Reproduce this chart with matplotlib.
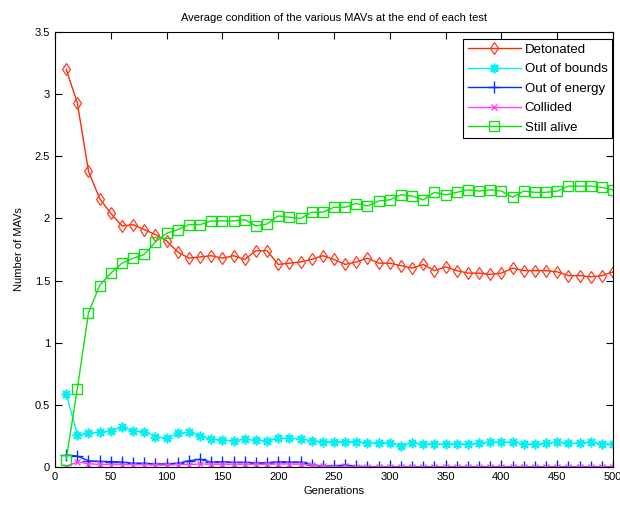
import matplotlib
matplotlib.use("Agg")
import matplotlib.pyplot as plt
import numpy as np

generations = list(range(10, 501, 10))

detonated = [3.20, 2.93, 2.38, 2.16, 2.04, 1.94, 1.95, 1.91, 1.87, 1.82,
             1.73, 1.68, 1.69, 1.70, 1.68, 1.70, 1.67, 1.74, 1.74, 1.63,
             1.64, 1.65, 1.67, 1.70, 1.67, 1.63, 1.65, 1.68, 1.64, 1.64,
             1.62, 1.60, 1.63, 1.58, 1.61, 1.58, 1.56, 1.56, 1.55, 1.56,
             1.60, 1.58, 1.58, 1.58, 1.57, 1.54, 1.54, 1.53, 1.54, 1.57]

out_of_bounds = [0.59, 0.26, 0.27, 0.28, 0.29, 0.32, 0.29, 0.285, 0.245, 0.23,
                 0.27, 0.28, 0.25, 0.223, 0.218, 0.212, 0.223, 0.218, 0.212, 0.23,
                 0.23, 0.226, 0.212, 0.204, 0.204, 0.204, 0.204, 0.196, 0.196, 0.196,
                 0.17, 0.196, 0.185, 0.185, 0.185, 0.185, 0.185, 0.19, 0.20, 0.20,
                 0.20, 0.185, 0.185, 0.19, 0.20, 0.19, 0.19, 0.20, 0.185, 0.185]

out_of_energy = [0.097, 0.088, 0.05, 0.045, 0.043, 0.04, 0.03, 0.03, 0.025, 0.025,
                 0.03, 0.05, 0.062, 0.04, 0.043, 0.037, 0.037, 0.033, 0.033, 0.043,
                 0.04, 0.04, 0.018, 0.008, 0.008, 0.016, 0.005, 0.003, 0.003, 0.003,
                 0.003, 0.003, 0.003, 0.003, 0.003, 0.003, 0.003, 0.003, 0.003, 0.003,
                 0.003, 0.003, 0.003, 0.003, 0.003, 0.003, 0.003, 0.003, 0.003, 0.003]

collided = [0.0, 0.043, 0.025, 0.022, 0.02, 0.02, 0.018, 0.018, 0.016, 0.016,
            0.018, 0.02, 0.024, 0.022, 0.022, 0.022, 0.022, 0.022, 0.022, 0.024,
            0.024, 0.022, 0.014, 0.005, 0.0, 0.005, 0.0, 0.0, 0.0, 0.0,
            0.0, 0.0, 0.0, 0.0, 0.0, 0.0, 0.0, 0.0, 0.0, 0.0,
            0.0, 0.0, 0.0, 0.0, 0.0, 0.0, 0.0, 0.0, 0.0, 0.0]

still_alive = [0.06, 0.63, 1.24, 1.46, 1.56, 1.64, 1.68, 1.71, 1.81, 1.88,
               1.91, 1.95, 1.95, 1.98, 1.98, 1.98, 1.99, 1.94, 1.955, 2.02,
               2.01, 2.00, 2.05, 2.05, 2.09, 2.09, 2.12, 2.10, 2.14, 2.15,
               2.19, 2.18, 2.15, 2.21, 2.19, 2.21, 2.23, 2.22, 2.23, 2.22,
               2.17, 2.22, 2.21, 2.21, 2.22, 2.26, 2.26, 2.26, 2.25, 2.23]

plt.rcParams['font.family'] = ['Liberation Sans', 'DejaVu Sans']

fig = plt.figure(figsize=(6.2, 5.08), dpi=100)
ax = fig.add_axes([55/620, 41/508, 558/620, 435/508])

lw = 1.0
ax.plot(generations, detonated, color='#ff2a00', lw=lw, marker='d', ms=6,
        mfc='none', mec='#ff3a20', mew=0.9, label='Detonated')
ax.plot(generations, out_of_bounds, color='#00f0f0', lw=lw, marker=(8, 2, 0), ms=7,
        mec='#00f0f0', mew=1.2, label='Out of bounds')
ax.plot(generations, out_of_energy, color='#0030ff', lw=lw, marker='+', ms=8,
        mew=1.0, label='Out of energy')
ax.plot(generations, collided, color='#ff40ff', lw=lw, marker='x', ms=5,
        mew=1.0, label='Collided')
ax.plot(generations, still_alive, color='#10e010', lw=lw, marker='s', ms=7,
        mfc='none', mec='#10e010', mew=1.0, label='Still alive')

ax.set_xlim(0, 500)
ax.set_ylim(0, 3.5)
ax.set_xticks(np.arange(0, 501, 50))
ax.set_yticks(np.arange(0, 3.51, 0.5))
ax.set_yticklabels(['0', '0.5', '1', '1.5', '2', '2.5', '3', '3.5'])
ax.tick_params(direction='in', top=True, right=True, labelsize=8, length=5, width=0.8)
for s in ax.spines.values():
    s.set_linewidth(0.8)

ax.set_xlabel('Generations', fontsize=8, labelpad=3)
ax.set_ylabel('Number of MAVs', fontsize=8, labelpad=8)
ax.set_title('Average condition of the various MAVs at the end of each test',
             fontsize=8, pad=8)

leg = ax.legend(loc='upper right', bbox_to_anchor=(612/620, (508-39)/508),
                bbox_transform=fig.transFigure, fontsize=9.5, frameon=True,
                fancybox=False, edgecolor='black', framealpha=1,
                borderaxespad=0, handlelength=4.0, labelspacing=0.55,
                borderpad=0.35, handletextpad=0.3)
leg.get_frame().set_linewidth(0.8)

fig.savefig('out.png', dpi=100, facecolor='white')
